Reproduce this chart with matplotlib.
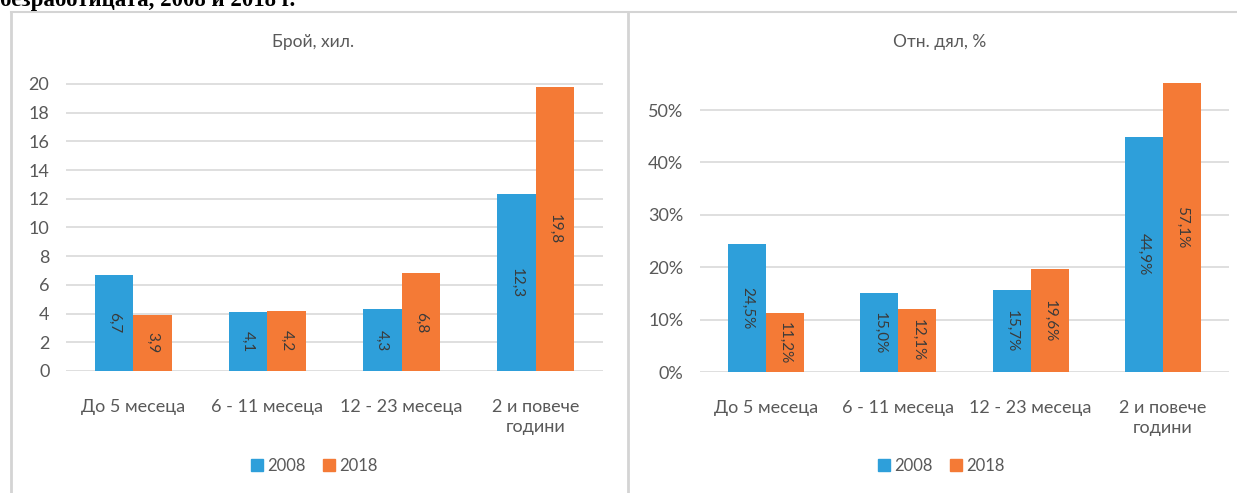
#безработица по продължителност - две графики
import matplotlib.pyplot as plt
from matplotlib.lines import Line2D
import numpy as np

categories = ['До 5 месеца', '6 - 11 месеца', '12 - 23 месеца', '2 и повече\nгодини']
years = ['2008', '2018']
count2008 = [6.7, 4.1, 4.3, 12.3]
count2018 = [3.9, 4.2, 6.8, 19.8]
share2008 = [0.245, 0.150, 0.157, 0.449]
share2018 = [0.112, 0.121, 0.196, 0.571]
countTicks = [0, 2, 4, 6, 8, 10, 12, 14, 16, 18, 20]
shareTicks = [0, 0.1, 0.2, 0.3, 0.4, 0.5]

blue = '#2e9fda'
orange = '#f47a36'
grey = '#595959'
gridColor = '#d9d9d9'
plt.rcParams['font.family'] = ['Lato', 'DejaVu Sans']


def groupedBars(ax, series, colors, ylim, ticks, tickFmt, labelFmt):
    """
    двойни колони с надписи вътре, завъртени на 270 градуса
    """
    x = np.arange(len(categories))
    width = 0.287
    offsets = [-width / 2, width / 2]
    for values, color, off in zip(series, colors, offsets):
        bars = ax.bar(x + off, values, width=width, color=color, zorder=3)
        for bar, value in zip(bars, values):
            mid = min(value, ylim[1]) / 2
            ax.text(bar.get_x() + bar.get_width() / 2, mid, labelFmt(value),
                    rotation=270, ha='center', va='center', fontsize=11,
                    color='#3a3a3a', zorder=4)
    ax.set_xlim(-0.5, len(categories) - 0.5)
    ax.set_ylim(*ylim)
    ax.set_yticks(ticks)
    ax.set_yticklabels([tickFmt(t) for t in ticks])
    ax.set_xticks(x)
    ax.set_xticklabels(categories, linespacing=1.3)
    ax.tick_params(axis='both', length=0, colors=grey, labelsize=13)
    ax.tick_params(axis='x', pad=20)
    ax.tick_params(axis='y', pad=12)
    for sp in ax.spines.values():
        sp.set_visible(False)
    ax.grid(True, axis='y', color=gridColor, linewidth=1.2, zorder=0)
    ax.set_axisbelow(True)
    ax.set_facecolor('none')


fig = plt.figure(figsize=(12.37, 4.93), dpi=100)

axLeft = fig.add_axes([0.0534, 0.2475, 0.434, 0.5996])
groupedBars(axLeft, [count2008, count2018], [blue, orange], (0, 20.6), countTicks,
            lambda t: f'{t:g}', lambda v: f'{v:.1f}'.replace('.', ','))

axRight = fig.add_axes([0.5659, 0.2454, 0.4277, 0.5866])
groupedBars(axRight, [share2008, share2018], [blue, orange], (0, 0.552), shareTicks,
            lambda t: f'{t * 100:.0f}%', lambda v: f'{v * 100:.1f}%'.replace('.', ','))

# заглавия и легенди на панелите
for ax, cx, title in [(axLeft, 313 / 1237, 'Брой, хил.'), (axRight, 940 / 1237, 'Отн. дял, %')]:
    fig.text(cx, 1 - 42 / 493, title, ha='center', va='center', fontsize=12.5, color=grey)
    handles = [Line2D([0], [0], marker='s', linestyle='none', markersize=8,
                      markerfacecolor=c, markeredgecolor=c) for c in [blue, orange]]
    leg = ax.legend(handles, years, loc='center', bbox_to_anchor=(cx, 27 / 493),
                    bbox_transform=fig.transFigure, ncol=2, frameon=False,
                    fontsize=12, handletextpad=0.1, columnspacing=0.9, handlelength=1.0)
    for t in leg.get_texts():
        t.set_color(grey)

# рамки на панелите
borderColor = '#d4d4d4'
fig.add_artist(Line2D([11 / 1237, 1], [1 - 12 / 493, 1 - 12 / 493], color=borderColor, lw=1.5))
fig.add_artist(Line2D([11 / 1237, 11 / 1237], [0, 1 - 12 / 493], color=borderColor, lw=2))
fig.add_artist(Line2D([628 / 1237, 628 / 1237], [0, 1 - 12 / 493], color=borderColor, lw=2))

# отрязаното заглавие отгоре
fig.text(0.0, 1 - 6 / 493, 'безработицата, 2008 и 2018 г.', fontsize=16.5, fontweight='bold',
         family=['Liberation Serif', 'DejaVu Serif'], va='baseline', ha='left', color='black')

fig.savefig('out.png', dpi=100)
